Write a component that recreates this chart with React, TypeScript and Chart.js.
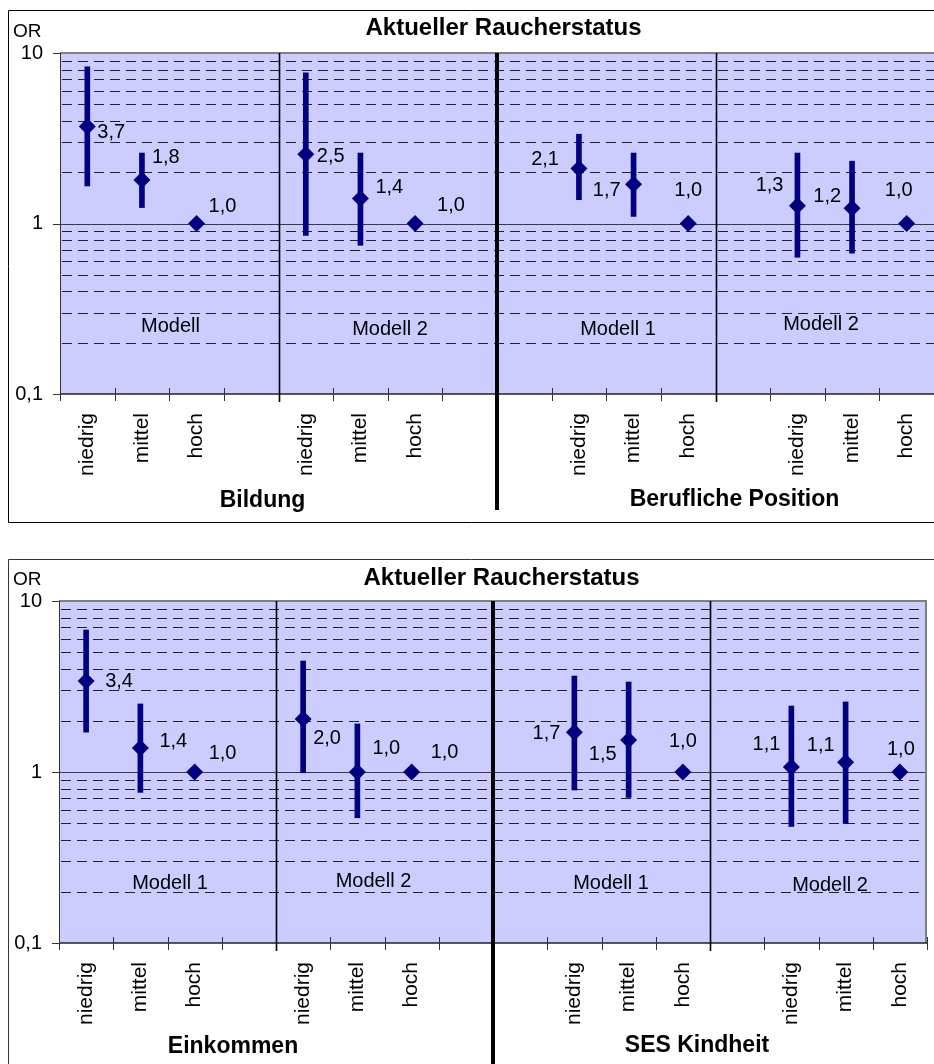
import React, { useEffect, useRef } from 'react';
import { Chart, registerables } from 'chart.js';

Chart.register(...registerables);

const FONT = '"Liberation Sans", Arial, Helvetica, sans-serif';
const NAVY = '#000080';
const PLOT_BG = '#CCCCFF';

// ---------- shared texts / ticks ----------
const TITLE = 'Aktueller Raucherstatus';
const Y_LABEL = 'OR';
const yTickValues = [0.1, 1, 10];
const yTickLabels = ['0,1', '1', '10'];
const minorGridValues = [0.2, 0.3, 0.4, 0.5, 0.6, 0.7, 0.8, 0.9, 2, 3, 4, 5, 6, 7, 8, 9];
const majorGridValues = [1];
// category boundaries (between category k-1 and k) that carry dividers
const thinDividers = [4, 12];
const thickDividers = [8];

// ---------- top panel data ----------
const topCategories = ['niedrig', 'mittel', 'hoch', '', 'niedrig', 'mittel', 'hoch', '', '', 'niedrig', 'mittel', 'hoch', '', 'niedrig', 'mittel', 'hoch'];
const topOR = [3.7, 1.8, 1.0, null, 2.55, 1.4, 1.0, null, null, 2.1, 1.7, 1.0, null, 1.27, 1.23, 1.0];
const topLower = [1.66, 1.24, null, null, 0.85, 0.745, null, null, null, 1.38, 1.1, null, null, 0.634, 0.67, null];
const topUpper = [8.3, 2.59, null, null, 7.65, 2.59, null, null, null, 3.34, 2.59, null, null, 2.59, 2.32, null];
const topValueLabels = ['3,7', '1,8', '1,0', '', '2,5', '1,4', '1,0', '', '', '2,1', '1,7', '1,0', '', '1,3', '1,2', '1,0'];
const topGroupTitles = ['Bildung', 'Berufliche Position'];
const topModelLabels = ['Modell', 'Modell 2', 'Modell 1', 'Modell 2'];

// ---------- bottom panel data ----------
const bottomCategories = ['niedrig', 'mittel', 'hoch', '', 'niedrig', 'mittel', 'hoch', '', '', 'niedrig', 'mittel', 'hoch', '', 'niedrig', 'mittel', 'hoch'];
const bottomOR = [3.4, 1.38, 1.0, null, 2.04, 1.0, 1.0, null, null, 1.71, 1.54, 1.0, null, 1.07, 1.14, 1.0];
const bottomLower = [1.71, 0.76, null, null, 0.99, 0.54, null, null, null, 0.785, 0.71, null, null, 0.48, 0.5, null];
const bottomUpper = [6.77, 2.5, null, null, 4.46, 1.91, null, null, null, 3.64, 3.36, null, null, 2.43, 2.57, null];
const bottomValueLabels = ['3,4', '1,4', '1,0', '', '2,0', '1,0', '1,0', '', '', '1,7', '1,5', '1,0', '', '1,1', '1,1', '1,0'];
const bottomGroupTitles = ['Einkommen', 'SES Kindheit'];
const bottomModelLabels = ['Modell 1', 'Modell 2', 'Modell 1', 'Modell 2'];

// ---------- layout (positions, sizes, styles) ----------
type Align = 'left' | 'right' | 'center';
type LabelOffset = [number, number, Align];

const topLabelOffsets: LabelOffset[] = [
  [10, 6, 'left'], [10, -22, 'left'], [12, -17, 'left'], [0, 0, 'left'],
  [11, 2, 'left'], [15, -11, 'left'], [22, -18, 'left'], [0, 0, 'left'],
  [0, 0, 'left'], [-20, -9, 'right'], [-13, 6, 'right'], [0, -33, 'center'],
  [0, 0, 'left'], [-14, -20, 'right'], [-11, -12, 'right'], [-8, -33, 'center'],
];
const bottomLabelOffsets: LabelOffset[] = [
  [19, 0, 'left'], [19, -7, 'left'], [14, -19, 'left'], [0, 0, 'left'],
  [10, 19, 'left'], [15, -24, 'left'], [19, -20, 'left'], [0, 0, 'left'],
  [0, 0, 'left'], [-14, 1, 'right'], [-12, 15, 'right'], [0, -31, 'center'],
  [0, 0, 'left'], [-11, -22, 'right'], [-11, -17, 'right'], [1, -23, 'center'],
];

interface PanelSpec {
  key: string;
  left: number;
  top: number;
  width: number;
  height: number;
  padTop: number;
  padRight: number;
  yAxisWidth: number;
  xAxisHeight: number;
  categories: string[];
  or: (number | null)[];
  lower: (number | null)[];
  upper: (number | null)[];
  valueLabels: string[];
  labelOffsets: LabelOffset[];
  groupTitles: string[];
  groupTitlePos: [number, number][];
  modelLabels: string[];
  modelLabelPos: [number, number][];
  titlePos: [number, number];
  yLabelPos: [number, number];
  frameBottom: number | null;
  frameColor: string;
  thickBottom: number;
  rightBorder: boolean;
}

const topSpec: PanelSpec = {
  key: 'top',
  left: 8,
  top: 10,
  width: 926,
  height: 513,
  padTop: 43,
  padRight: 0,
  yAxisWidth: 52,
  xAxisHeight: 129,
  categories: topCategories,
  or: topOR,
  lower: topLower,
  upper: topUpper,
  valueLabels: topValueLabels,
  labelOffsets: topLabelOffsets,
  groupTitles: topGroupTitles,
  groupTitlePos: [[254.5, 497], [726.5, 496]],
  modelLabels: topModelLabels,
  modelLabelPos: [[162.5, 316.5], [382, 319.5], [610, 319], [813, 314.3]],
  titlePos: [495.5, 25],
  yLabelPos: [5, 27],
  frameBottom: 512.5,
  frameColor: '#000',
  thickBottom: 500,
  rightBorder: false,
};

const bottomSpec: PanelSpec = {
  key: 'bottom',
  left: 8,
  top: 559,
  width: 926,
  height: 505,
  padTop: 42,
  padRight: 7,
  yAxisWidth: 51,
  xAxisHeight: 121,
  categories: bottomCategories,
  or: bottomOR,
  lower: bottomLower,
  upper: bottomUpper,
  valueLabels: bottomValueLabels,
  labelOffsets: bottomLabelOffsets,
  groupTitles: bottomGroupTitles,
  groupTitlePos: [[225, 494], [689, 493]],
  modelLabels: bottomModelLabels,
  modelLabelPos: [[162, 324.3], [365.5, 322.7], [603, 324.3], [822, 326.7]],
  titlePos: [493.5, 26],
  yLabelPos: [5, 26],
  frameBottom: null,
  frameColor: '#333',
  thickBottom: 505,
  rightBorder: true,
};

function line(ctx: CanvasRenderingContext2D, x1: number, y1: number, x2: number, y2: number) {
  ctx.beginPath();
  ctx.moveTo(x1, y1);
  ctx.lineTo(x2, y2);
  ctx.stroke();
}

function makeDecoPlugin(spec: PanelSpec) {
  return {
    id: 'panelDeco_' + spec.key,
    beforeDraw(chart: any) {
      const { ctx, chartArea: a } = chart;
      const y = chart.scales.y;
      ctx.save();
      ctx.fillStyle = '#ffffff';
      ctx.fillRect(0, 0, chart.width, chart.height);
      ctx.fillStyle = PLOT_BG;
      ctx.fillRect(a.left, a.top, a.right - a.left, a.bottom - a.top);
      // minor dashed grid
      ctx.strokeStyle = '#222';
      ctx.lineWidth = 1;
      ctx.setLineDash([10, 6]);
      for (const v of minorGridValues) {
        const py = Math.round(y.getPixelForValue(v)) + 0.5;
        line(ctx, a.left + 2, py, a.right, py);
      }
      ctx.setLineDash([]);
      ctx.strokeStyle = '#3a3a3a';
      for (const v of majorGridValues) {
        const py = Math.round(y.getPixelForValue(v)) + 0.5;
        line(ctx, a.left, py, a.right, py);
      }
      ctx.restore();
    },
    afterDatasetsDraw(chart: any) {
      const { ctx, chartArea: a } = chart;
      const x = chart.scales.x;
      const y = chart.scales.y;
      const step = x.getPixelForValue(1) - x.getPixelForValue(0);
      const boundary = (k: number) => x.getPixelForValue(0) + (k - 0.5) * step;
      ctx.save();

      // plot border: top (gray), right (bottom panel)
      ctx.strokeStyle = '#808080';
      ctx.lineWidth = 2;
      line(ctx, a.left, a.top, a.right, a.top);
      if (spec.rightBorder) line(ctx, a.right - 1, a.top, a.right - 1, a.bottom);

      // y axis line + decade ticks
      ctx.strokeStyle = '#333';
      ctx.lineWidth = 1;
      line(ctx, a.left + 0.5, a.top, a.left + 0.5, a.bottom);
      for (const v of yTickValues) {
        const py = Math.round(y.getPixelForValue(v)) + 0.5;
        line(ctx, a.left - 7, py, a.left, py);
      }

      // x axis line + ticks at category boundaries (crossing the axis)
      ctx.strokeStyle = '#222';
      ctx.lineWidth = 1.5;
      line(ctx, a.left, a.bottom, a.right, a.bottom);
      ctx.strokeStyle = '#333';
      ctx.lineWidth = 1;
      for (let k = 0; k <= spec.categories.length; k++) {
        const px = Math.round(boundary(k)) + 0.5;
        line(ctx, px, a.bottom - 6, px, a.bottom + 7);
      }

      // dividers
      ctx.strokeStyle = '#000';
      ctx.lineWidth = 1.6;
      for (const k of thinDividers) {
        const px = Math.round(boundary(k)) + 0.5;
        line(ctx, px, a.top, px, a.bottom + 8);
      }
      ctx.lineWidth = 4;
      for (const k of thickDividers) {
        const px = Math.round(boundary(k));
        line(ctx, px, a.top, px, spec.thickBottom);
      }

      // outer frame
      ctx.strokeStyle = spec.frameColor;
      ctx.lineWidth = 1;
      line(ctx, 0.5, 0.5, chart.width, 0.5);
      line(ctx, 0.5, 0.5, 0.5, spec.frameBottom ?? chart.height);
      if (spec.frameBottom !== null) line(ctx, 0.5, spec.frameBottom, chart.width, spec.frameBottom);

      // title & axis label
      ctx.fillStyle = '#000';
      ctx.textBaseline = 'alphabetic';
      ctx.font = `bold 24px ${FONT}`;
      ctx.textAlign = 'center';
      ctx.fillText(TITLE, spec.titlePos[0], spec.titlePos[1]);
      ctx.font = `19px ${FONT}`;
      ctx.textAlign = 'left';
      ctx.fillText(Y_LABEL, spec.yLabelPos[0], spec.yLabelPos[1]);

      // group titles
      ctx.font = `bold 23px ${FONT}`;
      ctx.textAlign = 'center';
      spec.groupTitles.forEach((t, i) => ctx.fillText(t, spec.groupTitlePos[i][0], spec.groupTitlePos[i][1]));

      // model labels
      ctx.font = `20px ${FONT}`;
      ctx.textBaseline = 'middle';
      spec.modelLabels.forEach((t, i) => ctx.fillText(t, spec.modelLabelPos[i][0], spec.modelLabelPos[i][1]));

      // value labels next to the points
      ctx.font = `20px ${FONT}`;
      spec.or.forEach((v, i) => {
        if (v === null || !spec.valueLabels[i]) return;
        const px = x.getPixelForValue(i);
        const py = y.getPixelForValue(v);
        const [dx, dy, al] = spec.labelOffsets[i];
        ctx.textAlign = al;
        ctx.fillText(spec.valueLabels[i], px + dx, py + dy);
      });
      ctx.restore();
    },
  };
}

function buildConfig(spec: PanelSpec): any {
  const ci = spec.lower.map((lo, i) => (lo === null || spec.upper[i] === null ? null : [lo, spec.upper[i]]));
  return {
    type: 'bar',
    data: {
      labels: spec.categories,
      datasets: [
        {
          type: 'line',
          label: 'OR',
          data: spec.or,
          showLine: false,
          pointStyle: 'rectRot',
          pointRadius: 8.5,
          pointHoverRadius: 8.5,
          pointBackgroundColor: NAVY,
          pointBorderColor: NAVY,
          pointBorderWidth: 0,
          order: 0,
        },
        {
          type: 'bar',
          label: 'KI',
          data: ci,
          backgroundColor: NAVY,
          borderWidth: 0,
          barThickness: 5,
          order: 1,
        },
      ],
    },
    options: {
      animation: false,
      responsive: false,
      maintainAspectRatio: false,
      devicePixelRatio: 1,
      events: [],
      layout: { autoPadding: false, padding: { top: spec.padTop, right: spec.padRight, left: 0, bottom: 0 } },
      plugins: {
        legend: { display: false },
        tooltip: { enabled: false },
        title: { display: false },
      },
      scales: {
        x: {
          type: 'category',
          offset: true,
          grid: { display: false, drawTicks: false },
          border: { display: false },
          ticks: {
            autoSkip: false,
            maxRotation: 90,
            minRotation: 90,
            padding: 19,
            color: '#000',
            font: { family: FONT, size: 21 },
          },
          afterFit: (s: any) => {
            s.height = spec.xAxisHeight;
            s.paddingLeft = 0;
            s.paddingRight = 0;
          },
        },
        y: {
          type: 'logarithmic',
          min: 0.1,
          max: 10,
          grid: { display: false, drawTicks: false },
          border: { display: false },
          afterBuildTicks: (s: any) => {
            s.ticks = yTickValues.map((v) => ({ value: v }));
          },
          ticks: {
            autoSkip: false,
            padding: 17,
            color: '#000',
            font: { family: FONT, size: 20 },
            callback: (v: number) => {
              const i = yTickValues.findIndex((t) => Math.abs(Math.log10(t) - Math.log10(v)) < 1e-6);
              return i >= 0 ? yTickLabels[i] : '';
            },
          },
          afterFit: (s: any) => {
            s.width = spec.yAxisWidth;
            s.paddingTop = 0;
            s.paddingBottom = 0;
          },
        },
      },
    },
    plugins: [makeDecoPlugin(spec)],
  };
}

function Panel({ spec }: { spec: PanelSpec }) {
  const ref = useRef<HTMLCanvasElement | null>(null);
  useEffect(() => {
    if (!ref.current) return;
    const chart = new Chart(ref.current, buildConfig(spec));
    return () => chart.destroy();
  }, [spec]);
  return (
    <canvas
      ref={ref}
      width={spec.width}
      height={spec.height}
      style={{ position: 'absolute', left: spec.left, top: spec.top, width: spec.width, height: spec.height, display: 'block' }}
    />
  );
}

export default function App() {
  return (
    <div
      style={{
        position: 'fixed',
        left: 0,
        top: 0,
        width: 934,
        height: 1064,
        overflow: 'hidden',
        background: '#ffffff',
      }}
    >
      <Panel spec={topSpec} />
      <Panel spec={bottomSpec} />
    </div>
  );
}
